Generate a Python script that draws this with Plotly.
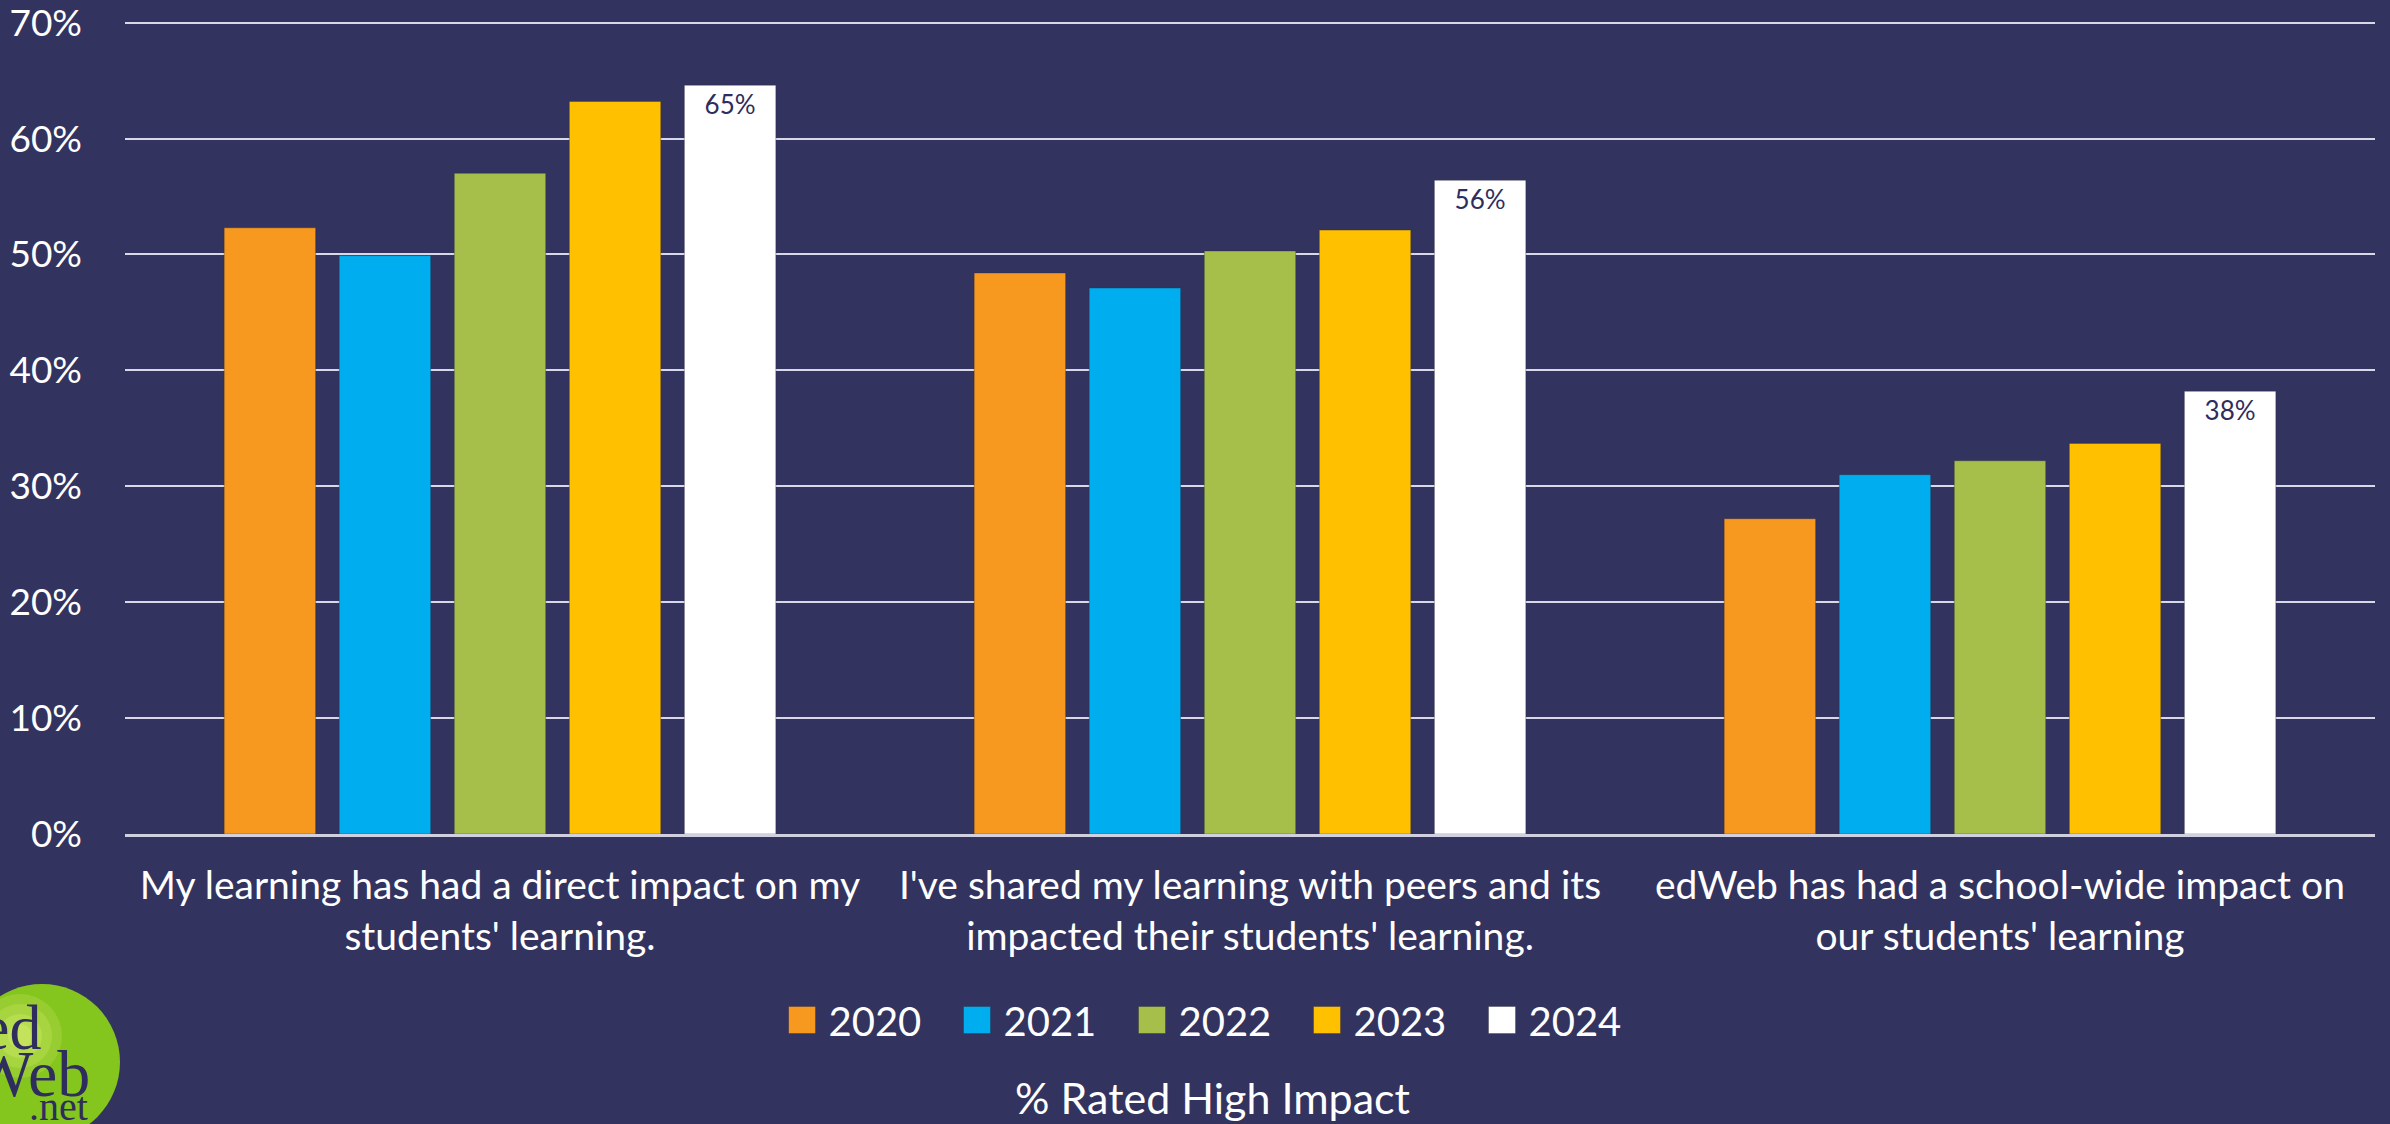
import plotly.graph_objects as go

categories = [
    "My learning has had a direct impact on my<br>students' learning.",
    "I've shared my learning with peers and its<br>impacted their students' learning.",
    "edWeb has had a school-wide impact on<br>our students' learning",
]
years = ["2020", "2021", "2022", "2023", "2024"]
v2020 = [0.523, 0.484, 0.272]
v2021 = [0.499, 0.471, 0.310]
v2022 = [0.570, 0.503, 0.322]
v2023 = [0.632, 0.521, 0.337]
v2024 = [0.646, 0.564, 0.382]
series = [v2020, v2021, v2022, v2023, v2024]
colors = ["#F7991F", "#00AEEF", "#A6BF4A", "#FFC000", "#FFFFFF"]
y_ticks = [0, 0.1, 0.2, 0.3, 0.4, 0.5, 0.6, 0.7]

BG = "#333360"
NAVY = "#2E2D5E"
FONT = "Lato"

W, H = 2390, 1124
ML, MR, MT, MB = 125, 15, 18, 290
PW, PH = W - ML - MR, H - MT - MB


def px(x):
    return (x - ML) / PW


def py(y):
    return (H - MB - y) / PH


fig = go.Figure()
for name, vals, col in zip(years, series, colors):
    is_last = name == "2024"
    fig.add_trace(go.Bar(
        name=name, x=categories, y=vals,
        marker=dict(color=col, line=dict(color="rgba(40,40,60,0.35)", width=1)),
        text=[f"{v*100:.0f}%" for v in vals] if is_last else None,
        textposition="inside" if is_last else "none",
        insidetextanchor="end",
        textfont=dict(color=NAVY, size=26, family=FONT),
        hoverinfo="skip",
    ))

fig.update_layout(
    width=W, height=H,
    paper_bgcolor=BG, plot_bgcolor=BG,
    margin=dict(l=ML, r=MR, t=MT, b=MB, autoexpand=False),
    barmode="group", bargap=0.233, bargroupgap=0.205,
    font=dict(family=FONT, color="white", size=37),
    showlegend=True,
    legend=dict(
        orientation="h", x=px(1226), xanchor="center", y=py(1020), yanchor="middle",
        font=dict(size=40, color="white", family=FONT),
        bgcolor="rgba(0,0,0,0)", entrywidth=130, entrywidthmode="pixels",
        traceorder="normal",
    ),
)
fig.update_yaxes(
    range=[0, 0.704], tickvals=y_ticks, tickformat=".0%",
    showgrid=True, gridcolor="#D8D8E8", gridwidth=2,
    zeroline=False, showline=False, ticks="", automargin=False,
    tickfont=dict(size=37, color="white", family=FONT),
    ticklabelstandoff=42, ticklabeloverflow="allow",
)
fig.update_xaxes(
    showgrid=False, showline=True, linecolor="#D0D0E0", linewidth=3,
    ticks="", automargin=False, tickfont=dict(size=39, color="white", family=FONT),
    ticklabelstandoff=15,
)

fig.add_annotation(
    text="% Rated High Impact", xref="paper", yref="paper",
    x=px(1212), y=py(1097), xanchor="center", yanchor="middle",
    showarrow=False, font=dict(size=43, color="white", family=FONT),
)

# edWeb logo (decoration)
cx, cy, r = 42, 1062, 78
shapes = [dict(type="circle", xref="paper", yref="paper",
               x0=px(cx - r), x1=px(cx + r), y0=py(cy + r), y1=py(cy - r),
               fillcolor="#84C51E", line=dict(width=0), layer="above")]
for rr, op in [(42, 0.2), (32, 0.22), (22, 0.25), (12, 0.3)]:
    hx, hy = 20, 1036
    shapes.append(dict(type="circle", xref="paper", yref="paper",
                       x0=px(hx - rr), x1=px(hx + rr), y0=py(hy + rr), y1=py(hy - rr),
                       fillcolor="#E4F27A", opacity=op, line=dict(width=0), layer="above"))
fig.update_layout(shapes=shapes)
for txt, xr, yc, sz in [("ed", 43, 1027, 64), ("Web", 92, 1073, 66), (".net", 90, 1106, 40)]:
    fig.add_annotation(text=txt, xref="paper", yref="paper", x=px(xr), y=py(yc),
                       xanchor="right", yanchor="middle", showarrow=False,
                       font=dict(family="Liberation Serif", size=sz, color=NAVY))

post = """
document.body.style.margin = '0';
document.body.style.overflow = 'hidden';
var gd = document.getElementById('{plot_id}');
function bigSwatches() {
  gd.querySelectorAll('.legendpoints path').forEach(function (p) {
    p.setAttribute('d', 'M7,13.5H-20V-13.5H7Z');
  });
}
bigSwatches();
gd.on('plotly_afterplot', bigSwatches);
"""

fig.write_html("out.html", post_script=post, config={"displayModeBar": False})
